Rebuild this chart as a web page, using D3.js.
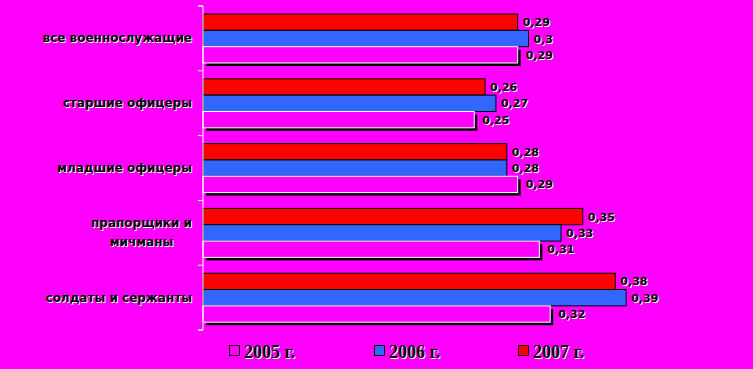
<!DOCTYPE html>
<html>
<head>
<meta charset="utf-8">
<script src="https://cdnjs.cloudflare.com/ajax/libs/d3/7.8.5/d3.min.js"></script>
<style>
  body { margin: 0; background: #ff00ff; }
  svg { display: block; }
  .cat { font-family: "DejaVu Sans", sans-serif; font-weight: bold; font-size: 12px; }
  .val { font-family: "DejaVu Sans", sans-serif; font-weight: bold; font-size: 11px; }
  .leg { font-family: "Liberation Serif", serif; font-weight: bold; font-size: 18px; }
</style>
</head>
<body>
<div class="chart"></div>
<script>
// categories top to bottom, each label split into lines
var categories = ["все военнослужащие", "старшие офицеры", "младшие офицеры", "прапорщики и мичманы", "солдаты и сержанты"];
var categoryLines = [["все военнослужащие"], ["старшие офицеры"], ["младшие офицеры"], ["прапорщики и", "мичманы"], ["солдаты и сержанты"]];

var years = ["2007", "2006", "2005"];
var values2005 = [0.29, 0.25, 0.29, 0.31, 0.32];
var values2006 = [0.30, 0.27, 0.28, 0.33, 0.39];
var values2007 = [0.29, 0.26, 0.28, 0.35, 0.38];
var labels2005 = ["0,29", "0,25", "0,29", "0,31", "0,32"];
var labels2006 = ["0,3", "0,27", "0,28", "0,33", "0,39"];
var labels2007 = ["0,29", "0,26", "0,28", "0,35", "0,38"];

var legendNames = ["2005 г.", "2006 г.", "2007 г."];

var svgWidth = 753, svgHeight = 369;

var svg = d3.select(".chart")
  .append("svg")
  .attr("width", svgWidth)
  .attr("height", svgHeight);

svg.append("rect")
  .attr("width", svgWidth)
  .attr("height", svgHeight)
  .attr("fill", "#ff00ff");

var xScale = d3.scaleLinear()
  .domain([0, 0.4])
  .range([203, 637]);

var yScale = d3.scaleBand()
  .domain(categories)
  .range([6, 330]);

var yInner = d3.scaleBand()
  .domain(years)
  .range([8, 57]);

var colors = { "2005": "#ff00ff", "2006": "#3366ff", "2007": "#ff0000" };
var series = { "2005": values2005, "2006": values2006, "2007": values2007 };
var seriesLabels = { "2005": labels2005, "2006": labels2006, "2007": labels2007 };

// rows of data
var rows = [];
years.forEach(function (yr) {
  categories.forEach(function (c, i) {
    rows.push({ year: yr, cat: c, value: series[yr][i], label: seriesLabels[yr][i] });
  });
});

var barGroup = svg.append("g");

// black shadow under 2005 bars
barGroup.selectAll(".shadow")
  .data(rows.filter(d => d.year === "2005"))
  .enter()
  .append("rect")
  .attr("class", "shadow")
  .attr("x", xScale(0) + 3)
  .attr("y", d => yScale(d.cat) + yInner(d.year) + 3)
  .attr("width", d => xScale(d.value) - xScale(0))
  .attr("height", yInner.bandwidth())
  .attr("fill", "#000");

barGroup.selectAll(".bar")
  .data(rows)
  .enter()
  .append("rect")
  .attr("class", "bar")
  .attr("x", xScale(0))
  .attr("y", d => yScale(d.cat) + yInner(d.year))
  .attr("width", d => xScale(d.value) - xScale(0))
  .attr("height", yInner.bandwidth())
  .attr("fill", d => colors[d.year])
  .attr("stroke", d => d.year === "2005" ? "#fff" : "#000")
  .attr("stroke-width", 1);

// text drawn black with a white shadow
function addText(g, x, y, txt, cls, anchor) {
  g.append("text").attr("class", cls).attr("x", x + 1).attr("y", y + 1)
    .attr("text-anchor", anchor).attr("fill", "#fff").text(txt);
  g.append("text").attr("class", cls).attr("x", x).attr("y", y)
    .attr("text-anchor", anchor).attr("fill", "#000").text(txt);
}

var valGroup = svg.append("g");
rows.forEach(function (d) {
  var xEnd = xScale(d.value) + (d.year === "2005" ? 8 : 5);
  var yMid = yScale(d.cat) + yInner(d.year) + yInner.bandwidth() / 2 + 4;
  addText(valGroup, xEnd, yMid, d.label, "val", "start");
});

// y axis
var yAxis = d3.axisLeft(yScale).tickSize(5).tickFormat("");
var axisG = svg.append("g")
  .attr("transform", "translate(203,0)")
  .call(yAxis);
axisG.select(".domain").attr("stroke", "#fff").attr("d", "M-5,6H0V330H-5");
axisG.selectAll(".tick").remove();
// boundary ticks between categories
var bounds = categories.map(c => yScale(c)).concat([yScale.range()[1]]);
axisG.selectAll(".btick")
  .data(bounds)
  .enter()
  .append("line")
  .attr("x1", -5).attr("x2", 0)
  .attr("y1", d => d).attr("y2", d => d)
  .attr("stroke", "#fff");

// category labels
var catGroup = svg.append("g");
categoryLines.forEach(function (lines, i) {
  var cy = yScale(categories[i]) + yScale.bandwidth() / 2;
  var lineH = 19;
  var top = cy - (lines.length - 1) * lineH / 2 + 4;
  if (lines.length === 1) {
    addText(catGroup, 192, top, lines[0], "cat", "end");
  } else {
    // centered block, right edge at 192
    var tmp = catGroup.append("text").attr("class", "cat").text(lines[0]);
    var w = tmp.node().getComputedTextLength();
    tmp.remove();
    var cx = 192 - w / 2;
    lines.forEach(function (ln, j) {
      addText(catGroup, cx, top + j * lineH, ln, "cat", "middle");
    });
  }
});

// legend
var legendX = [229, 374, 518];
var legendColors = ["#ff00ff", "#3366ff", "#ff0000"];
var legend = svg.append("g");
legendNames.forEach(function (name, i) {
  legend.append("rect")
    .attr("x", legendX[i] + 0.5).attr("y", 345.5)
    .attr("width", 10).attr("height", 10)
    .attr("fill", legendColors[i])
    .attr("stroke", "#000");
  addText(legend, legendX[i] + 15, 358, name, "leg", "start");
});
</script>
</body>
</html>
